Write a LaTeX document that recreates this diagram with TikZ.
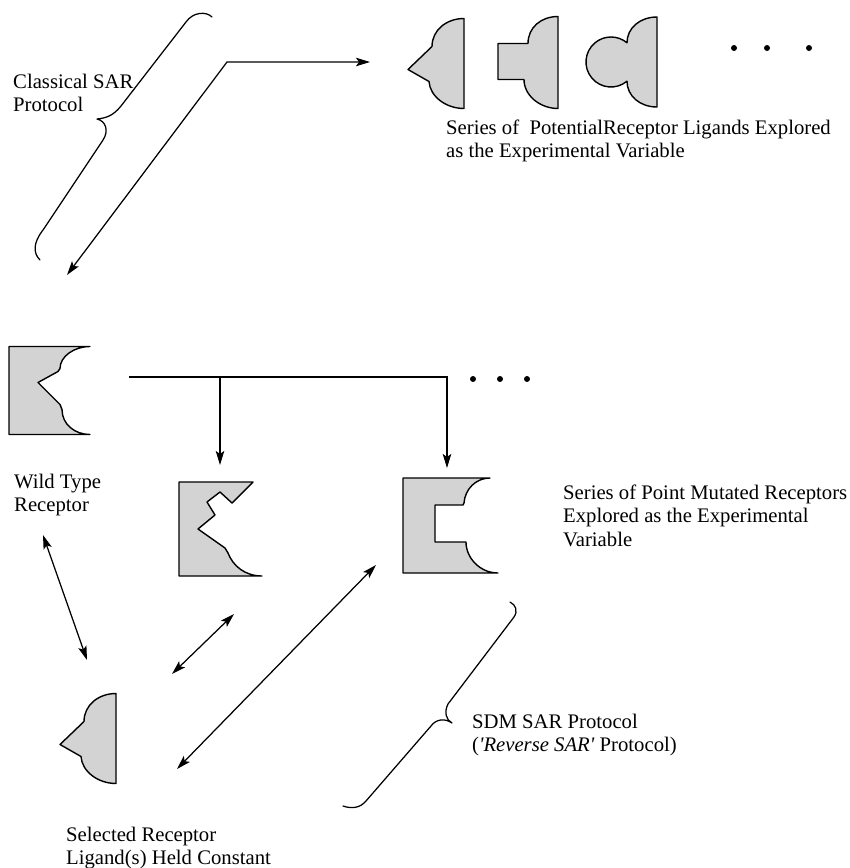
\documentclass[tikz,border=0pt]{standalone}
\usepackage{fontspec}
\setmainfont{Liberation Serif}
\usetikzlibrary{arrows.meta}
\definecolor{shapefill}{RGB}{211,211,211}
\tikzset{
  outline/.style={draw=black, line width=1.4pt, fill=shapefill, line join=round},
  link/.style={draw=black, line width=1.25pt},
  headto/.style={-{Stealth[length=14pt,width=8.5pt,inset=3pt]}},
  twoway/.style={{Stealth[length=14pt,width=8.5pt,inset=3pt]}-{Stealth[length=14pt,width=8.5pt,inset=3pt]}},
  txt/.style={anchor=north west, inner sep=0pt, align=left,
    font=\fontsize{20.7}{23.3}\selectfont},
  bracepath/.style={draw=black, line width=1.25pt, line cap=round, line join=round},
  ellipsisdot/.style={fill=black, circle, inner sep=0pt, minimum size=6pt},
  % ligand with a pointed tip
  lig tri/.pic={
    \path[outline] (0,45) -- (0,-45)
      .. controls (-18,-45) and (-34,-33) .. (-35,-18)
      -- (-56,-6) -- (-32,17)
      .. controls (-32,33) and (-18,45) .. (0,45) -- cycle;
  },
  % ligand with a square tab
  lig rect/.pic={
    \path[outline] (0,46) -- (0,-46)
      .. controls (-18,-46) and (-34,-33) .. (-34,-17)
      -- (-60,-17) -- (-60,19) -- (-30,19)
      .. controls (-30,35) and (-17,46) .. (0,46) -- cycle;
  },
  % ligand with a round knob
  lig round/.pic={
    \path[outline] (0,45) -- (0,-45)
      .. controls (-17,-45) and (-30,-34) .. (-30,-19.2)
      arc[start angle=-50.2, end angle=-309.8, radius=25]
      .. controls (-30,34) and (-17,45) .. (0,45) -- cycle;
  },
}
\begin{document}
\begin{tikzpicture}[x=1pt,y=1pt,yscale=-1]
\useasboundingbox (0,0) rectangle (850,868);
\fill[white] (0,0) rectangle (850,868);

% ---------- top row: candidate ligands ----------
\pic at (464,63.5) {lig tri};
\pic at (558,62.5) {lig rect};
\pic at (657,62) {lig round};
\node[ellipsisdot] (d1) at (734,48) {};
\node[ellipsisdot] (d2) at (767,48) {};
\node[ellipsisdot] (d3) at (809,48) {};

\node[txt] (ligser) at (446,119.9)
  {Series of\ \ PotentialReceptor Ligands Explored\\as the Experimental Variable};

% classical brace and label
\draw[bracepath] (212,17) .. controls (206,11) and (193,12) .. (186,22)
  -- (121,106) .. controls (113,116) and (106,118) .. (97,119)
  .. controls (106,121) and (109,131) .. (103,140)
  -- (43,230) .. controls (33,243) and (33,253) .. (40,260);
\node[txt] (classical) at (13,73.9) {Classical SAR\\Protocol};

% classical route: receptor <- corner -> ligands
\coordinate (corner) at (227,62);
\coordinate (toLig) at (370,62);
\coordinate (toRec) at (67,275);
\draw[link, twoway] (toLig) -- (corner) -- (toRec);

% ---------- wild type receptor ----------
\begin{scope}[shift={(90,390.5)}]
\path[outline] (-81,-44) -- (0,-44)
  .. controls (-16,-44) and (-30,-34) .. (-30,-22) -- (-32,-19)
  -- (-52,-8) -- (-30,14) -- (-28,19)
  .. controls (-28,34) and (-15,44) .. (0,44) -- (-81,44) -- cycle;
\end{scope}
\node[txt] (wild) at (14,473.9) {Wild Type\\Receptor};

% ---------- mutated receptors ----------
\path[outline] (179,482) -- (253,482) -- (232,503) -- (220,492) -- (207,502)
  -- (215,515) -- (198,529) -- (225,548) -- (228,553)
  .. controls (233,566) and (245,576) .. (262,576) -- (179,576) -- cycle;
\path[outline] (403,478) -- (490,478)
  .. controls (476,478) and (465,489) .. (464,503) -- (463,505)
  -- (435,505) -- (435,542) -- (466,542)
  .. controls (466,558) and (480,573) .. (498,573) -- (403,573) -- cycle;

\coordinate (split0) at (129,377);
\coordinate (split1) at (220,377);
\coordinate (split2) at (447,377);
\coordinate (mut1) at (220,465);
\coordinate (mut2) at (447,468);
\draw[link, headto] (split0) -- (split2) -- (mut2);
\draw[link, headto] (split1) -- (mut1);
\node[ellipsisdot] (m1) at (473,379) {};
\node[ellipsisdot] (m2) at (500,379) {};
\node[ellipsisdot] (m3) at (527,379) {};

\node[txt] (mutser) at (563,484.9)
  {Series of Point Mutated Receptors\\Explored as the Experimental\\Variable};

% ---------- ligand held constant ----------
\pic at (116,738.5) {lig tri};
\node[txt] (selected) at (66,826.9) {Selected Receptor\\Ligand(s) Held Constant};

% reverse SAR links
\coordinate (wtEnd) at (43,535);
\coordinate (ligEndA) at (87,660);
\coordinate (ligEndB) at (172,674);
\coordinate (mutEndA) at (234,614);
\coordinate (ligEndC) at (177,769);
\coordinate (mutEndB) at (376,565);
\draw[link, twoway] (wtEnd) -- (ligEndA);
\draw[link, twoway] (ligEndB) -- (mutEndA);
\draw[link, twoway] (ligEndC) -- (mutEndB);

% SDM brace and label
\draw[bracepath] (510,602) .. controls (516,605) and (518,611) .. (514,617)
  -- (448,704) .. controls (444,712) and (446,720) .. (452,723)
  .. controls (445,718) and (436,719) .. (431,726)
  -- (366,801) .. controls (360,808) and (352,809) .. (343,806);
\node[txt] (sdm) at (472,713.9)
  {SDM SAR Protocol\\(\textit{\textquotesingle Reverse SAR\textquotesingle}\ Protocol)};
\end{tikzpicture}
\end{document}
